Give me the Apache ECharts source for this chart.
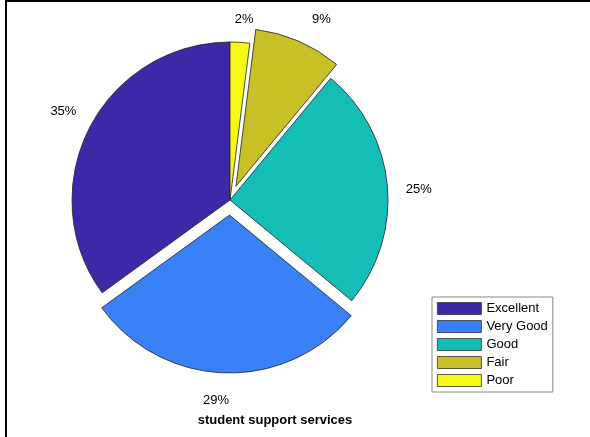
<!DOCTYPE html>
<html>
<head>
<meta charset="utf-8">
<script src="https://cdn.jsdelivr.net/npm/echarts@6/dist/echarts.min.js"></script>
<style>
html,body{margin:0;padding:0;background:#fff;}
#chart{width:590px;height:437px;}
</style>
</head>
<body>
<div id="chart"></div>
<script>
// Data
var categories = ['Excellent', 'Very Good', 'Good', 'Fair', 'Poor'];
var values = [35, 29, 25, 9, 2];
var exploded = [false, true, false, true, false];
var colors = ['#3D28A8', '#3A80F7', '#14BEB6', '#C9BF27', '#F8F816'];
var titleText = 'student support services';

// label nudges to mimic reference placement (horizontal padding, vertical shift)
var labelPadX = [[0, 10], [16, 0], [6, 0], [0, 30], [0, 4]]; // [right, left]
var labelShiftY = [-1, 8, 8, -4, 12];

var R = 158;
var CX = 230, CY = 200;

var chart = echarts.init(document.getElementById('chart'), null, {renderer: 'canvas'});

var mainData = categories.map(function (c, i) {
  return {
    name: c,
    value: values[i],
    selected: exploded[i],
    itemStyle: {color: colors[i]}
  };
});
var ghostData = categories.map(function (c, i) {
  var dy = labelShiftY[i];
  var sp = Math.max(1, Math.abs(dy) * 2);
  return {
    name: c,
    value: values[i],
    label: {
      padding: [0, labelPadX[i][0], 0, labelPadX[i][1]],
      formatter: function (p) {
        var t = '{t|' + Math.round(p.percent) + '%}';
        return dy >= 0 ? '{sp| }\n' + t : t + '\n{sp| }';
      },
      rich: {
        t: {fontFamily: 'Liberation Sans, Arial', fontSize: 13, color: '#000', height: 15, lineHeight: 15},
        sp: {fontSize: 1, height: sp, lineHeight: sp}
      }
    }
  };
});

var option = {
  animation: false,
  backgroundColor: '#ffffff',
  title: {
    text: titleText,
    left: 270,
    top: 409,
    textAlign: 'center',
    textStyle: {fontFamily: 'Liberation Sans, Arial', fontSize: 13, fontWeight: 'bold', color: '#000'}
  },
  legend: {
    orient: 'vertical',
    left: 432,
    top: 297,
    padding: [5, 5, 5, 5],
    itemGap: 5,
    itemWidth: 44,
    itemHeight: 12,
    icon: 'rect',
    borderColor: '#888',
    borderWidth: 1,
    backgroundColor: '#fff',
    selectedMode: false,
    data: categories,
    itemStyle: {borderColor: '#333', borderWidth: 0.8},
    textStyle: {fontFamily: 'Liberation Sans, Arial', fontSize: 13, color: '#000'}
  },
  graphic: [
    {type: 'rect', shape: {x: 5, y: 0, width: 585, height: 2}, style: {fill: '#000'}, silent: true},
    {type: 'rect', shape: {x: 5, y: 0, width: 2, height: 437}, style: {fill: '#000'}, silent: true}
  ],
  series: [
    {
      type: 'pie',
      center: [CX, CY],
      radius: [0, R],
      startAngle: 90,
      clockwise: false,
      selectedMode: 'multiple',
      selectedOffset: 15,
      avoidLabelOverlap: false,
      label: {show: false},
      labelLine: {show: false},
      emphasis: {disabled: true, scale: false},
      itemStyle: {borderColor: '#222', borderWidth: 0.8},
      data: mainData
    },
    {
      type: 'pie',
      center: [CX, CY],
      radius: [R * 1.1, R * 1.3],
      startAngle: 90,
      clockwise: false,
      silent: true,
      avoidLabelOverlap: false,
      itemStyle: {color: 'rgba(0,0,0,0)', borderWidth: 0},
      emphasis: {disabled: true},
      labelLine: {show: false},
      label: {
        show: true,
        position: 'inside',
        fontFamily: 'Liberation Sans, Arial',
        fontSize: 13,
        color: '#000'
      },
      data: ghostData
    }
  ]
};
chart.setOption(option);
</script>
</body>
</html>
